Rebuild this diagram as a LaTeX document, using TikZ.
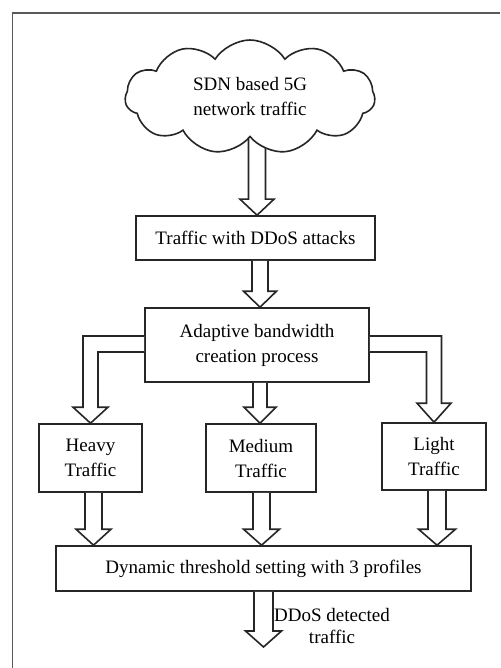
\documentclass[tikz,border=0pt]{standalone}
\usepackage{fontspec}
\setmainfont{Liberation Serif}
\usetikzlibrary{shapes.symbols,calc}
\tikzset{
  box/.style={draw=black!85, line width=1.6pt, rectangle, inner sep=0pt, align=center,
    font=\fontsize{19}{25}\selectfont},
  blk/.style={draw=black!85, line width=1.6pt, line join=miter, fill=white},
  frame/.style={draw=black!65, line width=1.6pt},
}
% vertical hollow block arrow: #1 x shift, #2 start anchor, #3 tip anchor, #4 shaft half width, #5 head half width
\newcommand{\blkdown}[5]{%
  \draw[blk] let \p1=($(#2)+(#1,0)$), \p2=(#3) in
    (\x1-#4,\y1) -- (\x1-#4,\y2+16pt) -- (\x1-#5,\y2+16pt) -- (\x1,\y2)
    -- (\x1+#5,\y2+16pt) -- (\x1+#4,\y2+16pt) -- (\x1+#4,\y1);
}
\begin{document}
\begin{tikzpicture}[x=1pt,y=-1pt]
\useasboundingbox (0,0) rectangle (500,668);
\fill[white] (0,0) rectangle (500,668);
\draw[frame] (12.5,668) -- (12.5,13) -- (500,13);

\coordinate (cc) at (250,95);
\node[box, minimum width=239pt, minimum height=44pt] (b1) at (255.5,238) {Traffic with DDoS attacks};
\blkdown{7}{cc}{b1.north}{8.5pt}{17pt}

\node[cloud, cloud puffs=11, cloud puff arc=115, cloud ignores aspect, draw=black!85, fill=white, line width=1.6pt,
  minimum width=250pt, minimum height=114pt, inner sep=0pt, align=center,
  font=\fontsize{19}{25}\selectfont] (cloud) at (250,97) {SDN based 5G\\network traffic};

\node[box, minimum width=224pt, minimum height=74pt] (b2) at (257,345) {Adaptive bandwidth\\creation process};
\node[box, minimum width=103pt, minimum height=68pt] (heavy) at (90.5,458) {Heavy\\Traffic};
\node[box, minimum width=110pt, minimum height=68pt] (medium) at (261,458) {Medium\\Traffic};
\node[box, minimum width=104pt, minimum height=67pt] (light) at (434,456.5) {Light\\Traffic};
\node[box, minimum width=415pt, minimum height=45pt] (dyn) at (263.5,568.5) {Dynamic threshold setting with 3 profiles};
\coordinate (out) at (263.5,647);
\node[align=center, inner sep=0pt, font=\fontsize{19}{22}\selectfont] (lbl) at (332,626) {DDoS detected\\traffic};

\blkdown{4.5}{b1.south}{b2.north}{8pt}{16.5pt}
\blkdown{3}{b2.south}{medium.north}{7pt}{16pt}
\blkdown{3}{heavy.south}{dyn.north}{8.5pt}{17.5pt}
\blkdown{0.5}{medium.south}{dyn.north}{8.5pt}{18pt}
\blkdown{3}{light.south}{dyn.north}{9pt}{18.5pt}
\blkdown{0}{dyn.south}{out}{9.5pt}{18pt}

% elbow arrows
\draw[blk] let \p1=(b2.west), \p2=(heavy.north) in
  (\x1,\y1+9pt) -- (\x2-7.5pt,\y1+9pt) -- (\x2-7.5pt,\y2+16pt) -- (\x2-17.5pt,\y2+16pt) -- (\x2,\y2)
  -- (\x2+17.5pt,\y2+16pt) -- (\x2+7.5pt,\y2+16pt) -- (\x2+7.5pt,\y1-7pt) -- (\x1,\y1-7pt);
\draw[blk] let \p1=(b2.east), \p2=(light.north) in
  (\x1,\y1+9pt) -- (\x2+7.5pt,\y1+9pt) -- (\x2+7.5pt,\y2+19pt) -- (\x2+17pt,\y2+19pt) -- (\x2,\y2)
  -- (\x2-17pt,\y2+19pt) -- (\x2-7.5pt,\y2+19pt) -- (\x2-7.5pt,\y1-7pt) -- (\x1,\y1-7pt);
\end{tikzpicture}
\end{document}
